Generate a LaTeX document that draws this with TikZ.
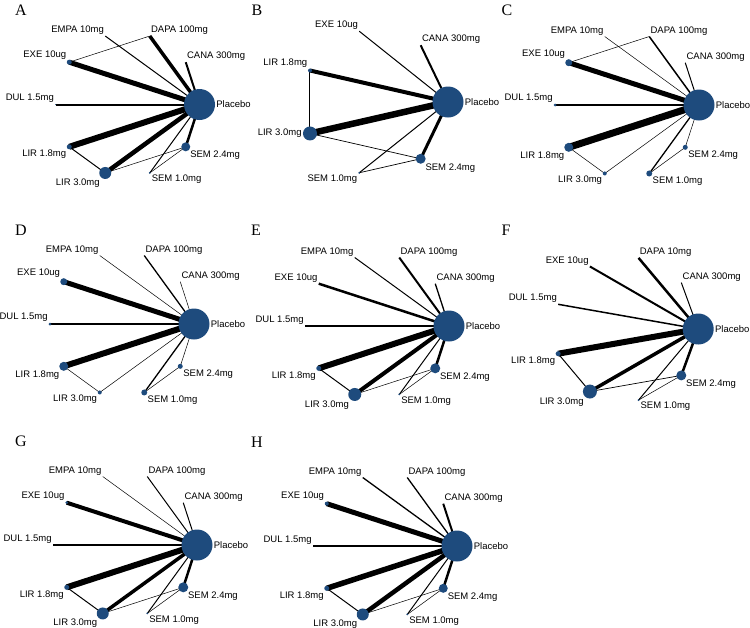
\documentclass[tikz,border=0pt]{standalone}
\usepackage{fontspec}
\setmainfont{Liberation Sans}
\newfontfamily\letterfont{Liberation Serif}
\usetikzlibrary{backgrounds}
\definecolor{dotblue}{RGB}{30,75,125}
\tikzset{
  dot/.style={circle, fill=dotblue, inner sep=0pt, minimum size={2*#1*1pt}},
  lbl/.style={font=\fontsize{9.5}{11}\selectfont, inner sep=1pt},
  letter/.style={font=\letterfont\fontsize{16}{18}\selectfont, inner sep=0pt},
}

\begin{document}
\begin{tikzpicture}[x=1pt,y=1pt]
    \useasboundingbox (0,0) rectangle (750,-627);

    % A
    \node[letter] (A-tag) at (21,-10) {A};
    \begin{scope}[shift={(127.5,-104.5)}]
        \foreach \nm/\ang/\r/\pos/\txt in {plac/0/15.5/right/Placebo, cana/36/0/above right/CANA 300mg,
            dapa/72/0/above right/DAPA 100mg, empa/108/0/above left/EMPA 10mg, exe/144/2.5/above left/EXE 10ug,
            dul/180/0.5/above left/DUL 1.5mg, lira/216/2.5/below left/LIR 1.8mg, lirb/252/6/below left/LIR 3.0mg,
            sema/288/1/below right/SEM 1.0mg, semb/324/4.5/below right/SEM 2.4mg}
            \node[dot=\r, label/.expanded={[lbl]\pos:\txt}] (A-\nm) at (\ang:72) {};
        \begin{pgfonlayer}{background}
            \foreach \a/\b/\w in {exe/dapa/0.5, empa/plac/1, dapa/plac/3.5, cana/plac/2, exe/plac/5, dul/plac/2,
                lira/plac/6, lira/lirb/1, lirb/plac/4.5, lirb/semb/0.5, sema/semb/0.5, sema/plac/1, semb/plac/2.5}
                \draw[line width=\w pt] (A-\a.center) -- (A-\b.center);
        \end{pgfonlayer}
    \end{scope}

    % B
    \node[letter] (B-tag) at (257,-10) {B};
    \begin{scope}[shift={(375.4,-102)}]
        \foreach \nm/\ang/\r/\pos/\txt in {plac/0/15.5/right/Placebo, cana/51.43/0/above right/CANA 300mg,
            exe/102.86/0/above left/EXE 10ug, lira/154.29/2/above left/LIR 1.8mg, lirb/205.71/7/left/LIR 3.0mg,
            sema/257.14/1/below left/SEM 1.0mg, semb/308.57/5/below right/SEM 2.4mg}
            \node[dot=\r, label/.expanded={[lbl]\pos:\txt}] (B-\nm) at (\ang:72.6) {};
        \begin{pgfonlayer}{background}
            \foreach \a/\b/\w in {exe/plac/1, cana/plac/2, lira/plac/4, lira/lirb/1, lirb/plac/6.5,
                lirb/semb/0.7, sema/semb/0.7, sema/plac/1, semb/plac/3}
                \draw[line width=\w pt] (B-\a.center) -- (B-\b.center);
        \end{pgfonlayer}
    \end{scope}

    % C
    \node[letter] (C-tag) at (507,-10) {C};
    \begin{scope}[shift={(627,-105)}]
        \foreach \nm/\ang/\r/\pos/\txt in {plac/0/15.5/right/Placebo, cana/36/0/above right/CANA 300mg,
            dapa/72/0/above right/DAPA 100mg, empa/108/0/above left/EMPA 10mg, exe/144/3.5/above left/EXE 10ug,
            dul/180/1.5/above left/DUL 1.5mg, lira/216/4.5/below left/LIR 1.8mg, lirb/252/2/below left/LIR 3.0mg,
            sema/288/3/below right/SEM 1.0mg, semb/324/2.5/below right/SEM 2.4mg}
            \node[dot=\r, label/.expanded={[lbl]\pos:\txt}] (C-\nm) at (\ang:72) {};
        \begin{pgfonlayer}{background}
            \foreach \a/\b/\w in {exe/dapa/0.5, empa/plac/0.5, dapa/plac/1.5, cana/plac/1, exe/plac/5, dul/plac/1.3,
                lira/plac/7, lira/lirb/0.5, lirb/plac/0.5, sema/plac/1.3, sema/semb/0.5, semb/plac/0.5}
                \draw[line width=\w pt] (C-\a.center) -- (C-\b.center);
        \end{pgfonlayer}
    \end{scope}

    % D
    \node[letter] (D-tag) at (21,-230) {D};
    \begin{scope}[shift={(122,-324)}]
        \foreach \nm/\ang/\r/\pos/\txt in {plac/0/15.5/right/Placebo, cana/36/0/above right/CANA 300mg,
            dapa/72/0/above right/DAPA 100mg, empa/108/0/above left/EMPA 10mg, exe/144/3.5/above left/EXE 10ug,
            dul/180/1.5/above left/DUL 1.5mg, lira/216/4.5/below left/LIR 1.8mg, lirb/252/2/below left/LIR 3.0mg,
            sema/288/3/below right/SEM 1.0mg, semb/324/2.5/below right/SEM 2.4mg}
            \node[dot=\r, label/.expanded={[lbl]\pos:\txt}] (D-\nm) at (\ang:72) {};
        \begin{pgfonlayer}{background}
            \foreach \a/\b/\w in {empa/plac/0.5, dapa/plac/1.3, cana/plac/0.5, exe/plac/5, dul/plac/1.3,
                lira/plac/6, lira/lirb/0.5, lirb/plac/0.5, sema/plac/1.3, sema/semb/0.5, semb/plac/0.5}
                \draw[line width=\w pt] (D-\a.center) -- (D-\b.center);
        \end{pgfonlayer}
    \end{scope}

    % E
    \node[letter] (E-tag) at (256,-230) {E};
    \begin{scope}[shift={(377,-326)}]
        \foreach \nm/\ang/\r/\pos/\txt in {plac/0/15.5/right/Placebo, cana/36/0/above right/CANA 300mg,
            dapa/72/0/above right/DAPA 100mg, empa/108/0/above left/EMPA 10mg, exe/144/0/above left/EXE 10ug,
            dul/180/0/above left/DUL 1.5mg, lira/216/2.5/below left/LIR 1.8mg, lirb/252/6.5/below left/LIR 3.0mg,
            sema/288/1/below right/SEM 1.0mg, semb/324/5/below right/SEM 2.4mg}
            \node[dot=\r, label/.expanded={[lbl]\pos:\txt}] (E-\nm) at (\ang:72) {};
        \begin{pgfonlayer}{background}
            \foreach \a/\b/\w in {empa/plac/1, dapa/plac/2, cana/plac/1.3, exe/plac/2.5, dul/plac/1.5,
                lira/plac/6, lira/lirb/1, lirb/plac/4, lirb/semb/0.5, sema/semb/0.5, sema/plac/1, semb/plac/2.5}
                \draw[line width=\w pt] (E-\a.center) -- (E-\b.center);
        \end{pgfonlayer}
    \end{scope}

    % F
    \node[letter] (F-tag) at (506,-230) {F};
    \begin{scope}[shift={(626,-329)}]
        \foreach \nm/\ang/\r/\pos/\txt in {plac/0/15.5/right/Placebo, cana/40/0/above right/CANA 300mg,
            dapa/80/0/above right/DAPA 10mg, exe/120/0/above left/EXE 10ug, dul/160/0/above left/DUL 1.5mg,
            lira/200/2.5/below left/LIR 1.8mg, lirb/240/7/below left/LIR 3.0mg,
            sema/280/1/below right/SEM 1.0mg, semb/320/5/below right/SEM 2.4mg}
            \node[dot=\r, label/.expanded={[lbl]\pos:\txt}] (F-\nm) at (\ang:72.2) {};
        \begin{pgfonlayer}{background}
            \foreach \a/\b/\w in {exe/plac/2, dapa/plac/2.5, cana/plac/1, dul/plac/1.5, lira/plac/6, lira/lirb/1,
                lirb/plac/3.5, lirb/semb/0.7, sema/semb/0.5, sema/plac/1, semb/plac/2.5}
                \draw[line width=\w pt] (F-\a.center) -- (F-\b.center);
        \end{pgfonlayer}
    \end{scope}

    % G
    \node[letter] (G-tag) at (21,-441) {G};
    \begin{scope}[shift={(125,-545)}]
        \foreach \nm/\ang/\r/\pos/\txt in {plac/0/15.5/right/Placebo, cana/36/0/above right/CANA 300mg,
            dapa/72/0/above right/DAPA 100mg, empa/108/0/above left/EMPA 10mg, exe/144/1.5/above left/EXE 10ug,
            dul/180/0/above left/DUL 1.5mg, lira/216/2.5/below left/LIR 1.8mg, lirb/252/6/below left/LIR 3.0mg,
            sema/288/1/below right/SEM 1.0mg, semb/324/5/below right/SEM 2.4mg}
            \node[dot=\r, label/.expanded={[lbl]\pos:\txt}] (G-\nm) at (\ang:72) {};
        \begin{pgfonlayer}{background}
            \foreach \a/\b/\w in {empa/plac/0.5, dapa/plac/1, cana/plac/1, exe/plac/4, dul/plac/2,
                lira/plac/6, lira/lirb/1, lirb/plac/3.5, lirb/semb/0.5, sema/semb/0.5, sema/plac/1, semb/plac/2.5}
                \draw[line width=\w pt] (G-\a.center) -- (G-\b.center);
        \end{pgfonlayer}
    \end{scope}

    % H
    \node[letter] (H-tag) at (257,-442) {H};
    \begin{scope}[shift={(385,-546)}]
        \foreach \nm/\ang/\r/\pos/\txt in {plac/0/15.5/right/Placebo, cana/36/0/above right/CANA 300mg,
            dapa/72/0/above right/DAPA 100mg, empa/108/0/above left/EMPA 10mg, exe/144/2/above left/EXE 10ug,
            dul/180/0/above left/DUL 1.5mg, lira/216/2.5/below left/LIR 1.8mg, lirb/252/6/below left/LIR 3.0mg,
            sema/288/1/below right/SEM 1.0mg, semb/324/4.5/below right/SEM 2.4mg}
            \node[dot=\r, label/.expanded={[lbl]\pos:\txt}] (H-\nm) at (\ang:72) {};
        \begin{pgfonlayer}{background}
            \foreach \a/\b/\w in {empa/plac/1.3, dapa/plac/1.3, cana/plac/2, exe/plac/5, dul/plac/1.5,
                lira/plac/5.5, lira/lirb/1, lirb/plac/4.5, lirb/semb/0.5, sema/semb/0.5, sema/plac/1, semb/plac/2.5}
                \draw[line width=\w pt] (H-\a.center) -- (H-\b.center);
        \end{pgfonlayer}
    \end{scope}
\end{tikzpicture}
\end{document}
